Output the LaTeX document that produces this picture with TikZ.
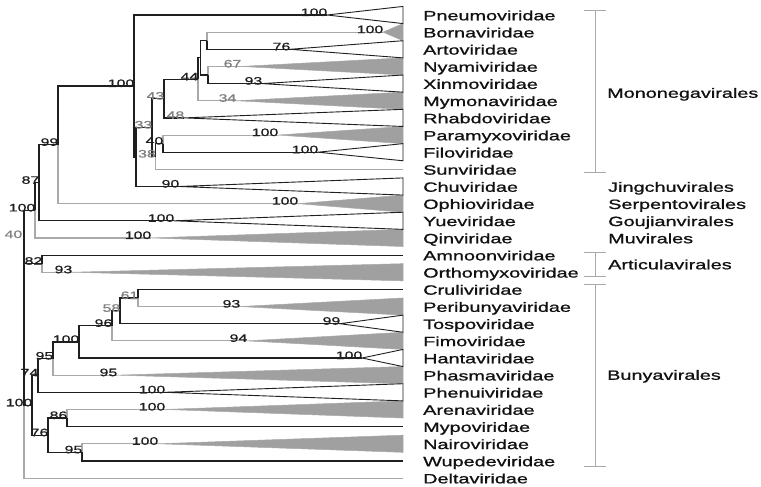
\documentclass[tikz,border=0pt]{standalone}
\usepackage{fontspec}
\setmainfont{Liberation Sans}[FakeStretch=1.47,FakeBold=1]
\usetikzlibrary{calc}
\definecolor{dkc}{HTML}{1F1F1F}
\definecolor{gyc}{HTML}{A9A9A9}
\definecolor{gyf}{HTML}{A0A0A0}
\definecolor{gtc}{HTML}{808080}
\definecolor{txc}{HTML}{111111}
\newcommand\cladetri[4]{%
  \coordinate (#1) at (#2,#3);
  \draw[#4] (#1) -- (403,#3-8.575) -- (403,#3+8.575) -- cycle;}
\begin{document}
\begin{tikzpicture}[x=1pt,y=-1pt,
  dk/.style={draw=dkc,line width=1.2pt},
  gy/.style={draw=gyc,line width=1.1pt},
  wtri/.style={draw=dkc,fill=white,line width=0.9pt,line join=miter},
  gtri/.style={draw=gyc,fill=gyf,line width=0.5pt},
  leaf/.style={font=\fontsize{13.5}{15}\selectfont,anchor=base west,inner sep=0pt,text=txc,yshift=-5.3pt},
  bsd/.style={font=\fontsize{10.8}{12}\selectfont,anchor=base east,inner sep=0pt,text=dkc,yshift=-1pt,xshift=0.5pt},
  bsg/.style={bsd,text=gtc},
  brk/.style={draw=gyc,line width=1pt}]
\fill[white] (0,0) rectangle (761,487);
\useasboundingbox (0,0) rectangle (761,487);

% gray triangles
\cladetri{Borna}{383}{32.15}{gtri}
\cladetri{Nyami}{241}{66.45}{gtri}
\cladetri{Mymona}{236}{100.75}{gtri}
\cladetri{Paramyxo}{278}{135.05}{gtri}
\cladetri{Ophio}{298}{203.65}{gtri}
\cladetri{Qin}{151}{237.95}{gtri}
\cladetri{Orthomyxo}{72}{272.25}{gtri}
\cladetri{Peribunya}{240}{306.55}{gtri}
\cladetri{Fimo}{247}{340.85}{gtri}
\cladetri{Phasma}{117}{375.15}{gtri}
\cladetri{Arena}{165}{409.45}{gtri}
\cladetri{Nairo}{158}{443.75}{gtri}

% single leaves
\coordinate (Sun) at (403,169.35);
\coordinate (Amnoon) at (403,255.1);
\coordinate (Cruli) at (403,289.4);
\coordinate (Mypo) at (403,426.6);
\coordinate (Wupede) at (403,460.9);
\coordinate (Delta) at (403,478.05);

% internal nodes
\coordinate (BA) at (207,40.7);
\coordinate (NX) at (208,75.0);
\coordinate (A) at (200.5,57.9);
\coordinate (N44) at (198,79.3);
\coordinate (N43) at (164,98.6);
\coordinate (P) at (163,143.6);
\coordinate (S) at (155.5,156.5);
\coordinate (N33) at (152,127.5);
\coordinate (Y) at (136,157);
\coordinate (N100b) at (134,86);
\coordinate (N99) at (58,144.8);
\coordinate (N87) at (39,182.8);
\coordinate (N100a) at (35,210.4);
\coordinate (N82) at (42,263.7);
\coordinate (N40) at (24,237);
\coordinate (N61) at (138,298);
\coordinate (N58) at (120,310.8);
\coordinate (N96) at (112,325.8);
\coordinate (N100d) at (79,341.9);
\coordinate (N95) at (53,358.5);
\coordinate (N74) at (38,375.4);
\coordinate (N86) at (67,418);
\coordinate (N95b) at (82,452.3);
\coordinate (N76) at (48,435.2);
\coordinate (N100c) at (32,405.3);
\coordinate (Root) at (24,357);

% white triangle apexes (coordinates first, triangles drawn later)
\coordinate (Pneumo) at (327,15);
\coordinate (Arto) at (290,49.3);
\coordinate (Xinmo) at (262,83.6);
\coordinate (Rhabdo) at (184,117.9);
\coordinate (Filo) at (318,152.2);
\coordinate (Chu) at (179,186.5);
\coordinate (Yue) at (174,220.8);
\coordinate (Tospo) at (340,323.7);
\coordinate (Hanta) at (362,358);
\coordinate (Phenui) at (165,392.3);

% gray branches
\foreach \p/\c in {BA/Borna,NX/Nyami,N44/Mymona,P/Paramyxo,S/Sun,N99/Ophio,
  N100a/Qin,N82/Orthomyxo,N61/Peribunya,N96/Fimo,N95/Phasma,N86/Arena,
  N95b/Nairo,Root/Delta}
  \draw[gy] (\p) |- (\c);

% dark branches
\foreach \p/\c in {BA/Arto,NX/Xinmo,A/BA,A/NX,N44/A,N43/N44,N43/Rhabdo,
  P/Filo,S/P,N33/N43,N33/S,Y/N33,Y/Chu,N100b/Pneumo,N100b/Y,N99/N100b,
  N87/N99,N87/Yue,N100a/N87,N40/N100a,N40/N82,N82/Amnoon,Root/N40,
  Root/N100c,N100c/N74,N100c/N76,N74/N95,N74/Phenui,N95/N100d,N100d/N96,
  N100d/Hanta,N96/N58,N58/N61,N58/Tospo,N61/Cruli,N76/N86,N76/N95b,
  N86/Mypo,N95b/Wupede}
  \draw[dk] (\p) |- (\c);

% white triangles
\cladetri{Pneumo}{327}{15}{wtri}
\cladetri{Arto}{290}{49.3}{wtri}
\cladetri{Xinmo}{262}{83.6}{wtri}
\cladetri{Rhabdo}{184}{117.9}{wtri}
\cladetri{Filo}{318}{152.2}{wtri}
\cladetri{Chu}{179}{186.5}{wtri}
\cladetri{Yue}{174}{220.8}{wtri}
\cladetri{Tospo}{340}{323.7}{wtri}
\cladetri{Hanta}{362}{358}{wtri}
\cladetri{Phenui}{165}{392.3}{wtri}

% support values at clades
\node[bsd] (sPneumo) at (Pneumo) {100};
\node[bsd] (sBorna) at (Borna) {100};
\node[bsd] (sArto) at (Arto) {76};
\node[bsg] (sNyami) at (Nyami) {67};
\node[bsd] (sXinmo) at (Xinmo) {93};
\node[bsg] (sMymona) at (Mymona) {34};
\node[bsg] (sRhabdo) at (Rhabdo) {48};
\node[bsd] (sParamyxo) at (Paramyxo) {100};
\node[bsd] (sFilo) at (Filo) {100};
\node[bsd] (sChu) at (Chu) {90};
\node[bsd] (sOphio) at (Ophio) {100};
\node[bsd] (sYue) at (Yue) {100};
\node[bsd] (sQin) at (Qin) {100};
\node[bsd] (sOrthomyxo) at (Orthomyxo) {93};
\node[bsd] (sPeribunya) at (Peribunya) {93};
\node[bsd] (sTospo) at (Tospo) {99};
\node[bsd] (sFimo) at (Fimo) {94};
\node[bsd] (sHanta) at (Hanta) {100};
\node[bsd] (sPhasma) at (Phasma) {95};
\node[bsd] (sPhenui) at (Phenui) {100};
\node[bsd] (sArena) at (Arena) {100};
\node[bsd] (sNairo) at (Nairo) {100};
% support values at internal nodes
\node[bsd] (sN44) at (N44) {44};
\node[bsg] (sN43) at (N43) {43};
\node[bsd] (sP) at (P) {40};
\node[bsg] (sS) at (S) {38};
\node[bsg] (sN33) at (N33) {33};
\node[bsd] (sN100b) at (N100b) {100};
\node[bsd] (sN99) at (N99) {99};
\node[bsd] (sN87) at (N87) {87};
\node[bsd] (sN100a) at (N100a) {100};
\node[bsg,xshift=-2pt] (sN40) at (N40) {40};
\node[bsd] (sN82) at (N82) {82};
\node[bsg] (sN61) at (N61) {61};
\node[bsg] (sN58) at (N58) {58};
\node[bsd] (sN96) at (N96) {96};
\node[bsd] (sN100d) at (N100d) {100};
\node[bsd] (sN95) at (N95) {95};
\node[bsd] (sN74) at (N74) {74};
\node[bsd] (sN100c) at (N100c) {100};
\node[bsd] (sN86) at (N86) {86};
\node[bsd] (sN76) at (N76) {76};
\node[bsd] (sN95b) at (N95b) {95};

% taxon names
\foreach \n [count=\i from 0] in {Pneumoviridae,Bornaviridae,Artoviridae,
  Nyamiviridae,Xinmoviridae,Mymonaviridae,Rhabdoviridae,Paramyxoviridae,
  Filoviridae,Sunviridae,Chuviridae,Ophioviridae,Yueviridae,Qinviridae,
  Amnoonviridae,Orthomyxoviridae,Cruliviridae,Peribunyaviridae,Tospoviridae,
  Fimoviridae,Hantaviridae,Phasmaviridae,Phenuiviridae,Arenaviridae,
  Mypoviridae,Nairoviridae,Wupedeviridae,Deltaviridae}
  \node[leaf] (t\i) at (423,{15+17.15*\i}) {\n};

% order names
\node[leaf] (oMono) at (607,92.5) {Mononegavirales};
\node[leaf] (oJing) at (608,186.5) {Jingchuvirales};
\node[leaf] (oSerp) at (608,203.65) {Serpentovirales};
\node[leaf] (oGouj) at (608,220.8) {Goujianvirales};
\node[leaf] (oMuvi) at (608,237.95) {Muvirales};
\node[leaf] (oArti) at (608,264) {Articulavirales};
\node[leaf] (oBuny) at (607,374.5) {Bunyavirales};

% brackets
\draw[brk] (584,11) -- (606,11) (595,11) -- (595,172.5) (584,172.5) -- (606,172.5);
\draw[brk] (584,252) -- (606,252) (595,252) -- (595,276) (584,276) -- (606,276);
\draw[brk] (584,284) -- (606,284) (595,284) -- (595,466) (584,466) -- (606,466);
\end{tikzpicture}
\end{document}
